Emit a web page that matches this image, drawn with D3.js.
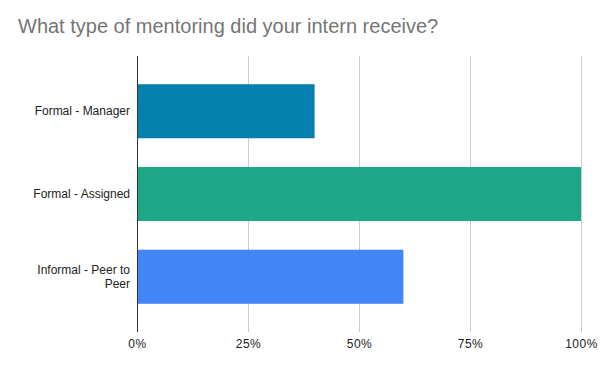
<!DOCTYPE html>
<html>
<head>
<meta charset="utf-8">
<script src="https://cdn.jsdelivr.net/npm/d3@7"></script>
<style>
  body { margin: 0; background: #fff; }
  svg { display: block; font-family: "Liberation Sans", Arial, sans-serif; }
</style>
</head>
<body>
<div id="chart"></div>
<script>
// data
const categories = ["Formal - Manager", "Formal - Assigned", "Informal - Peer to Peer"];
const shares = [0.4, 1.0, 0.6];
const barColors = ["#0580ae", "#1fa686", "#4285f4"];
const tickValues = [0, 0.25, 0.5, 0.75, 1];

const width = 600;
const height = 371;
const marginLeft = 137;
const marginRight = 19;

const svg = d3.select("#chart")
  .append("svg")
  .attr("width", width)
  .attr("height", height);

svg.append("rect").attr("width", width).attr("height", height).attr("fill", "#fff");

// title
svg.append("text")
  .attr("x", 18)
  .attr("y", 33)
  .attr("font-size", 20)
  .attr("fill", "#757575")
  .text("What type of mentoring did your intern receive?");

const x = d3.scaleLinear()
  .domain([0, 1])
  .range([marginLeft, width - marginRight]);

const y = d3.scaleBand()
  .domain(categories)
  .range([55.5, 332.5])
  .padding(0.347);

// vertical gridlines
svg.append("g")
  .selectAll("line")
  .data(tickValues.slice(1))
  .join("line")
  .attr("x1", d => Math.round(x(d)) + 0.5)
  .attr("x2", d => Math.round(x(d)) + 0.5)
  .attr("y1", 56)
  .attr("y2", 332)
  .attr("stroke", "#cccccc");

// bars
svg.append("g")
  .selectAll("rect")
  .data(categories)
  .join("rect")
  .attr("x", x(0))
  .attr("y", d => y(d))
  .attr("width", (d, i) => x(shares[i]) - x(0))
  .attr("height", y.bandwidth())
  .attr("fill", (d, i) => barColors[i]);

// zero baseline
svg.append("line")
  .attr("x1", x(0) + 0.5)
  .attr("x2", x(0) + 0.5)
  .attr("y1", 56)
  .attr("y2", 332)
  .attr("stroke", "#333");

// x axis labels
const xAxis = d3.axisBottom(x)
  .tickValues(tickValues)
  .tickFormat(d3.format(".0%"))
  .tickSize(0)
  .tickPadding(0);

svg.append("g")
  .attr("transform", "translate(0,339)")
  .call(xAxis)
  .call(g => g.select(".domain").remove())
  .call(g => g.selectAll("text")
    .attr("font-size", 12)
    .attr("font-family", "Liberation Sans, Arial, sans-serif")
    .attr("letter-spacing", 0.5)
    .attr("fill", "#222"));

// y labels, wrapped like the reference
const labelLines = {
  "Formal - Manager": ["Formal - Manager"],
  "Formal - Assigned": ["Formal - Assigned"],
  "Informal - Peer to Peer": ["Informal - Peer to", "Peer"]
};

const yLabels = svg.append("g")
  .selectAll("text")
  .data(categories)
  .join("text")
  .attr("text-anchor", "end")
  .attr("font-size", 12)
  .attr("fill", "#222");

yLabels.each(function (d) {
  const lines = labelLines[d];
  const cy = y(d) + y.bandwidth() / 2;
  const lh = 14;
  const top = cy - (lines.length - 1) * lh / 2;
  d3.select(this)
    .selectAll("tspan")
    .data(lines)
    .join("tspan")
    .attr("x", 130)
    .attr("y", (l, i) => top + i * lh)
    .attr("dy", "0.35em")
    .text(l => l);
});
</script>
</body>
</html>
